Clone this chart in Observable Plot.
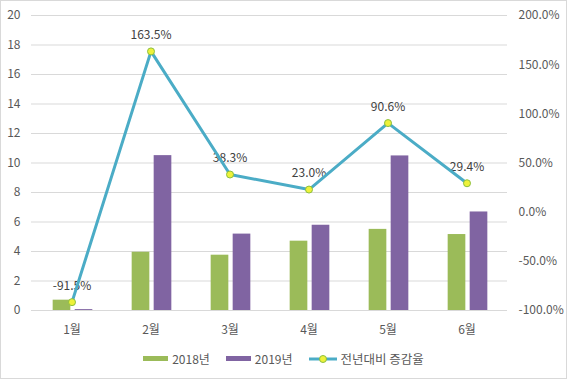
<!DOCTYPE html>
<html>
<head>
<meta charset="utf-8">
<script src="https://cdn.jsdelivr.net/npm/d3@7"></script>
<script src="https://cdn.jsdelivr.net/npm/@observablehq/plot@0.6"></script>
<style>
  body { margin: 0; background: #fff; }
  #chart { position: relative; width: 567px; height: 379px; font-family: "Noto Sans CJK KR", "Noto Sans", sans-serif; overflow: hidden; }
  #chart::after { content: ""; position: absolute; inset: 0; border: 1px solid #d9d9d9; pointer-events: none; }
  #legend { position: absolute; left: 0; right: 0; top: 349px; display: flex; justify-content: center; align-items: center; gap: 16px; font-size: 12px; color: #595959; }
  .item { display: flex; align-items: center; gap: 4px; }
  .sw { width: 25px; height: 5px; display: inline-block; }
</style>
</head>
<body>
<div id="chart"><div id="legend"></div></div>
<script>
const months = ["1월", "2월", "3월", "4월", "5월", "6월"];
const series = ["2018년", "2019년", "전년대비 증감율"];
const values2018 = [0.7, 3.95, 3.75, 4.7, 5.5, 5.15];
const values2019 = [0.06, 10.5, 5.18, 5.78, 10.48, 6.68];
const growth = [-91.5, 163.5, 38.3, 23.0, 90.6, 29.4];
const leftTicks = [0, 2, 4, 6, 8, 10, 12, 14, 16, 18, 20];
const rightTicks = [-100, -50, 0, 50, 100, 150, 200];

const colors = ["#9bbb59", "#8064a2", "#4bacc6"];
const dotFill = "#eef23a", dotStroke = "#8cbf3f";
const toY = p => (p + 100) / 15; // map % (-100..200) onto left scale (0..20)

const W = 567, ML = 31, MR = 60;
const bw = (W - ML - MR) / months.length;

const rows2018 = months.map((m, i) => ({month: m, v: values2018[i]}));
const rows2019 = months.map((m, i) => ({month: m, v: values2019[i]}));
const rowsG = months.map((m, i) => ({month: m, p: growth[i]}));

const plot = Plot.plot({
  width: W,
  height: 340,
  marginLeft: ML,
  marginRight: MR,
  marginTop: 15,
  marginBottom: 30,
  style: {fontFamily: '"Noto Sans CJK KR", "Noto Sans", sans-serif', fontSize: "12px", color: "#595959", background: "transparent"},
  x: {domain: months, padding: 0, label: null},
  y: {domain: [0, 20], label: null},
  marks: [
    Plot.gridY({ticks: leftTicks, stroke: "#d9d9d9", strokeOpacity: 1}),
    Plot.axisY({ticks: leftTicks, tickSize: 0, tickPadding: 11, label: null, fill: "#595959"}),
    Plot.axisY({ticks: rightTicks.map(toY), anchor: "right", tickSize: 0, tickPadding: 11, label: null, fill: "#595959",
      tickFormat: y => (y * 15 - 100).toFixed(1) + "%"}),
    Plot.axisX({tickSize: 0, tickPadding: 15, label: null, fill: "#595959"}),
    Plot.barY(rows2018, {x: "month", y: "v", fill: colors[0], insetLeft: bw / 2 - 19, insetRight: bw / 2 + 1}),
    Plot.barY(rows2019, {x: "month", y: "v", fill: colors[1], insetLeft: bw / 2 + 3, insetRight: bw / 2 - 21}),
    Plot.text(rowsG, {x: "month", y: d => toY(d.p), text: d => d.p.toFixed(1) + "%", dy: -16, fill: "#404040", fontSize: 12}),
    Plot.line(rowsG, {x: "month", y: d => toY(d.p), stroke: colors[2], strokeWidth: 3}),
    Plot.dot(rowsG, {x: "month", y: d => toY(d.p), r: 3.5, fill: dotFill, stroke: dotStroke, strokeWidth: 1})
  ]
});
const chart = document.getElementById("chart");
chart.insertBefore(plot, chart.firstChild);

const legend = document.getElementById("legend");
series.forEach((s, i) => {
  const item = document.createElement("div");
  item.className = "item";
  if (i < 2) {
    item.innerHTML = `<span class="sw" style="background:${colors[i]}"></span><span>${s}</span>`;
  } else {
    item.innerHTML = `<svg width="28" height="10"><line x1="0" x2="28" y1="5" y2="5" stroke="${colors[2]}" stroke-width="3"/><circle cx="14" cy="5" r="3.5" fill="${dotFill}" stroke="${dotStroke}"/></svg><span style="font-size:12.5px">${s}</span>`;
  }
  legend.appendChild(item);
});
</script>
</body>
</html>
